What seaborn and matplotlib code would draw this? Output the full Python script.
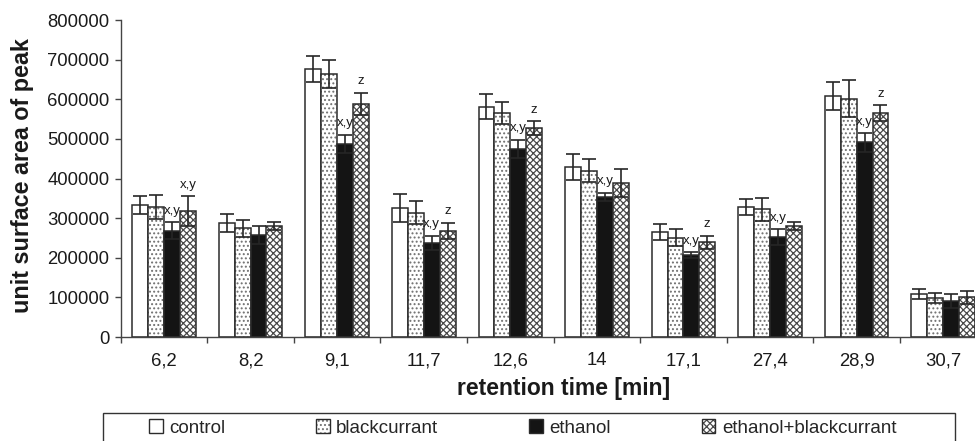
import matplotlib
matplotlib.use("Agg")
import matplotlib.pyplot as plt
import matplotlib.colors as mcolors
from matplotlib.patches import Patch, Rectangle
import seaborn as sns
import pandas as pd

# ---------------- data ----------------
times = ["6,2", "8,2", "9,1", "11,7", "12,6", "14", "17,1", "27,4", "28,9", "30,7"]
groups = ["control", "blackcurrant", "ethanol", "ethanol+blackcurrant"]

control = [333000, 288000, 676000, 326000, 581000, 430000, 264000, 329000, 609000, 108000]
blackcurrant = [329000, 274000, 664000, 314000, 565000, 420000, 251000, 322000, 601000, 99000]
ethanol = [268000, 257000, 487000, 237000, 475000, 354000, 207000, 252000, 491000, 91000]
eth_black = [318000, 280000, 588000, 268000, 528000, 389000, 239000, 280000, 565000, 100000]

control_err = [23000, 23000, 32000, 35000, 32000, 33000, 20000, 20000, 35000, 12000]
blackcurrant_err = [30000, 21000, 36000, 28000, 27000, 29000, 22000, 30000, 47000, 13000]
ethanol_err = [21000, 23000, 23000, 18000, 23000, 10000, 7000, 20000, 23000, 17000]
eth_black_err = [37000, 11000, 28000, 20000, 17000, 35000, 16000, 11000, 20000, 17000]

# significance letters (ethanol, ethanol+blackcurrant) per retention time
ethanol_marks = ["x,y", "", "x,y", "x,y", "x,y", "x,y", "x,y", "x,y", "x,y", ""]
eth_black_marks = ["x,y", "", "z", "z", "z", "", "z", "", "z", ""]

y_ticks = [0, 100000, 200000, 300000, 400000, 500000, 600000, 700000, 800000]

means = [control, blackcurrant, ethanol, eth_black]
errs = [control_err, blackcurrant_err, ethanol_err, eth_black_err]

rows = []
for g, vals in zip(groups, means):
    for t, v in zip(times, vals):
        rows.append({"time": t, "group": g, "value": v})
df = pd.DataFrame(rows)

# ---------------- style ----------------
sns.set_style("ticks")
plt.rcParams["font.family"] = ["Liberation Sans", "DejaVu Sans"]
plt.rcParams["hatch.linewidth"] = 0.9

styles = {
    "control": dict(face="white", hatch=None, hcol="#000000"),
    "blackcurrant": dict(face="white", hatch="....", hcol="#707070"),
    "ethanol": dict(face="#141414", hatch=None, hcol="#141414"),
    "ethanol+blackcurrant": dict(face="white", hatch="xxxxx", hcol="#4a4a4a"),
}
edge_col = "#2b2b2b"

fig = plt.figure(figsize=(9.75, 4.41), dpi=100)
ax = fig.add_axes([0.1238, 0.2358, 0.888, 0.7188])

sns.barplot(data=df, x="time", y="value", hue="group", order=times,
            hue_order=groups, palette=[styles[g]["face"] for g in groups],
            width=0.734, errorbar=None, legend=False, saturation=1,
            edgecolor=edge_col, linewidth=1.1, ax=ax)

for cont, g, m, e in zip(ax.containers, groups, means, errs):
    st = styles[g]
    xs = []
    for bar in cont:
        bar.set_facecolor(st["face"])
        bar.set_edgecolor(edge_col)
        if st["hatch"]:
            bar.set_hatch(st["hatch"])
            bar._hatch_color = mcolors.to_rgba(st["hcol"])
        xs.append(bar.get_x() + bar.get_width() / 2)
    ax.errorbar(xs, m, yerr=e, fmt="none", ecolor="#262626", elinewidth=1.2,
                capsize=4.8, capthick=1.2, zorder=5)
    marks = ethanol_marks if g == "ethanol" else (eth_black_marks if g == "ethanol+blackcurrant" else None)
    if marks:
        for x, v, er, lab in zip(xs, m, e, marks):
            if lab:
                ax.annotate(lab, (x, v + er), xytext=(0, 4), textcoords="offset points",
                            ha="center", va="bottom", fontsize=9.5, color="#1a1a1a")

# ---------------- axes ----------------
ax.set_ylim(0, 800000)
ax.set_xlim(-0.5, len(times) - 0.5)
ax.set_yticks(y_ticks)
ax.set_yticklabels([str(v) for v in y_ticks])
ax.set_xticks(range(len(times)))
ax.set_xticklabels(times)
ax.set_xticks([i - 0.5 for i in range(len(times) + 1)], minor=True)
ax.tick_params(axis="x", which="major", length=0, pad=11, labelsize=13.3, colors="#1a1a1a")
ax.tick_params(axis="x", which="minor", length=4.5, width=1.0, direction="out", color="#444444")
ax.tick_params(axis="y", which="major", length=4.5, width=1.0, pad=3.5, labelsize=13.3,
               colors="#1a1a1a", color="#444444")
for s in ["top", "right"]:
    ax.spines[s].set_visible(False)
for s in ["left", "bottom"]:
    ax.spines[s].set_color("#444444")
    ax.spines[s].set_linewidth(1.0)

ax.set_xlabel("retention time [min]", fontsize=16.5, fontweight="bold", color="#1a1a1a")
ax.set_ylabel("unit surface area of peak", fontsize=16.8, fontweight="bold", color="#1a1a1a")
ax.xaxis.label.set_va("center")
ax.yaxis.label.set_va("center")
ax.xaxis.set_label_coords(0.511, -0.161)
ax.yaxis.set_label_coords(-0.1137, 0.5095)

# ---------------- legend ----------------
handles = []
for g in groups:
    st = styles[g]
    p = Patch(facecolor=st["face"], edgecolor=edge_col, linewidth=1.0,
              hatch=st["hatch"], label=g)
    if st["hatch"]:
        p._hatch_color = mcolors.to_rgba(st["hcol"])
    handles.append(p)

fig.legend(handles=handles, ncol=4, loc="center left",
           bbox_to_anchor=(149 / 975, (441 - 428) / 441), frameon=False,
           fontsize=13.5, borderpad=0, borderaxespad=0, handlelength=0.72,
           handleheight=0.72, handletextpad=0.35, columnspacing=4.85)
fig.patches.append(Rectangle((103 / 975, -0.1), 852 / 975, (441 - 413) / 441 + 0.1,
                             transform=fig.transFigure, fill=False,
                             edgecolor="#333333", linewidth=1.0))

fig.savefig("out.png", dpi=100)
